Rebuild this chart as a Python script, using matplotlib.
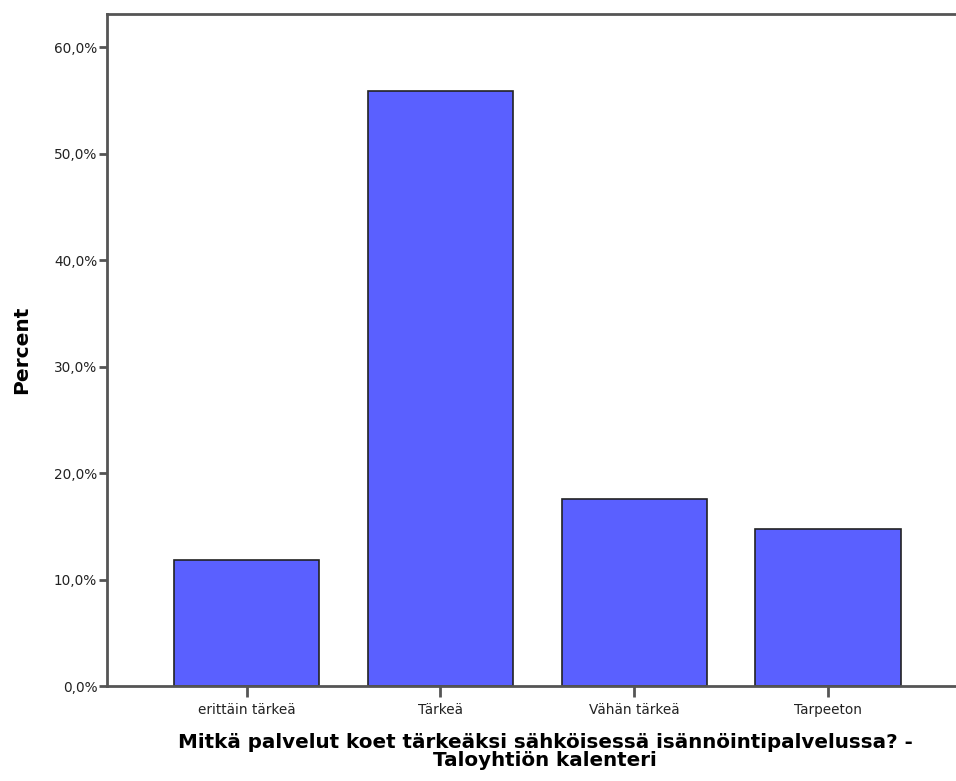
import matplotlib
matplotlib.use('Agg')
import matplotlib.pyplot as plt
from matplotlib.ticker import FuncFormatter

# values
categories = ["erittäin tärkeä", "Tärkeä", "Vähän tärkeä", "Tarpeeton"]
percents = [11.8, 55.9, 17.6, 14.7]
yticks = [0, 10, 20, 30, 40, 50, 60]

plt.rcParams['font.family'] = ['DejaVu Sans']

fig = plt.figure(figsize=(9.56, 7.81), dpi=100)
ax = fig.add_axes([107/956, 95/781, 1 - 107/956, 672/781])

x = range(len(categories))
ax.bar(x, percents, width=0.75, color='#5a60ff', edgecolor='#222222', linewidth=1.2)

ax.set_xlim(-0.72, 3.66)
ax.set_ylim(0, 63.1)
ax.set_yticks(yticks)
ax.yaxis.set_major_formatter(FuncFormatter(lambda v, p: f"{v:.1f}%".replace('.', ',')))
ax.set_xticks(list(x))
ax.set_xticklabels(categories)

for side in ['left', 'top', 'bottom']:
    ax.spines[side].set_color('#555555')
    ax.spines[side].set_linewidth(2)
ax.spines['right'].set_visible(False)

ax.tick_params(axis='y', length=6, width=2, color='#555555', labelsize=9.8, labelcolor='#222222', pad=1)
ax.tick_params(axis='x', length=8, width=2, color='#555555', labelsize=9.8, labelcolor='#222222', pad=4)

ax.set_ylabel("Percent", fontsize=14.5, fontweight='bold')
ax.yaxis.set_label_coords(-(107 - 31) / 849, 0.5)
ax.set_xlabel("Mitkä palvelut koet tärkeäksi sähköisessä isännöintipalvelussa? -\nTaloyhtiön kalenteri",
              fontsize=14.3, fontweight='bold', linespacing=0.95)
ax.xaxis.set_label_coords((545 - 107) / 849, -(733 - 686) / 672)

fig.savefig("out.png", dpi=100)
